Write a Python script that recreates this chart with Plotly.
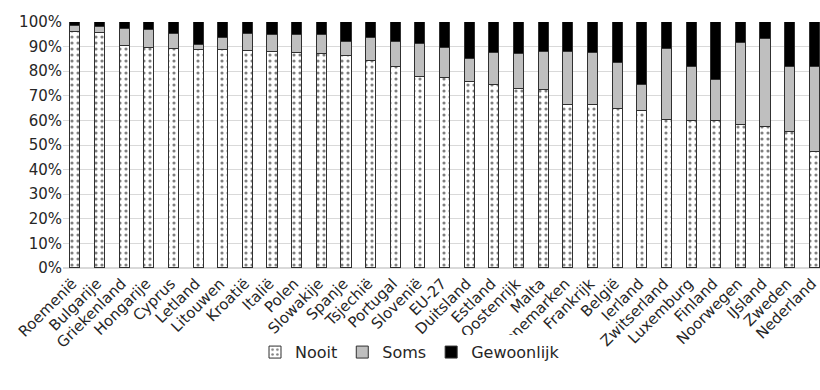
import plotly.graph_objects as go

countries = ["Roemenië", "Bulgarije", "Griekenland", "Hongarije", "Cyprus", "Letland",
             "Litouwen", "Kroatië", "Italië", "Polen", "Slowakije", "Spanje", "Tsjechië",
             "Portugal", "Slovenië", "EU-27", "Duitsland", "Estland", "Oostenrijk", "Malta",
             "Denemarken", "Frankrijk", "België", "Ierland", "Zwitserland", "Luxemburg",
             "Finland", "Noorwegen", "IJsland", "Zweden", "Nederland"]

nooit = [95.8, 95.7, 90.1, 89.5, 89.1, 88.5, 88.6, 88.1, 87.8, 87.4, 87.0, 86.1, 84.2,
         81.8, 77.8, 77.4, 75.8, 74.3, 72.6, 72.2, 66.1, 66.1, 64.5, 63.8, 60.3, 59.9,
         59.9, 58.2, 57.4, 55.1, 47.0]
soms = [2.6, 2.4, 7.1, 7.4, 6.0, 2.3, 5.0, 7.0, 6.8, 7.5, 7.7, 5.9, 9.2,
        10.2, 13.4, 12.2, 9.3, 13.1, 14.2, 15.6, 21.7, 21.2, 18.9, 10.5, 28.6, 22.0,
        16.7, 33.3, 35.7, 26.5, 34.9]
gewoonlijk = [1.6, 1.9, 2.8, 3.1, 4.9, 9.2, 6.4, 4.9, 5.4, 5.1, 5.3, 8.0, 6.6,
              8.0, 8.8, 10.4, 14.9, 12.6, 13.2, 12.2, 12.2, 12.7, 16.6, 25.7, 11.1, 18.1,
              23.4, 8.5, 6.9, 18.4, 18.1]

y_ticks = list(range(0, 101, 10))
y_labels = [f"{v}%" for v in y_ticks]

FONT = "DejaVu Sans"
line = dict(color="#303030", width=1)
bw = 0.41

fig = go.Figure()
fig.add_trace(go.Bar(
    name="Nooit", x=countries, y=nooit, width=bw,
    marker=dict(color="white", line=line,
                pattern=dict(shape=".", fgcolor="black", bgcolor="white", size=6, solidity=0.22)),
))
fig.add_trace(go.Bar(
    name="Soms", x=countries, y=soms, width=bw,
    marker=dict(color="#bfbfbf", line=line),
))
fig.add_trace(go.Bar(
    name="Gewoonlijk", x=countries, y=gewoonlijk, width=bw,
    marker=dict(color="black", line=line),
))

fig.update_layout(
    width=820, height=390,
    barmode="stack",
    plot_bgcolor="white", paper_bgcolor="white",
    margin=dict(l=63, r=0, t=22, b=121.5, autoexpand=False),
    font=dict(family=FONT, size=15, color="#262626"),
    showlegend=True,
    legend=dict(orientation="h", x=0.5, xref="container", xanchor="center",
                y=0.097, yref="container", yanchor="middle",
                font=dict(size=16), itemwidth=30, traceorder="normal"),
    xaxis=dict(range=[-0.5, 30.21], tickangle=-45, showgrid=False, showline=False,
               ticks="", tickfont=dict(size=15), automargin=False,
               ticklabelshift=-3, ticklabelstandoff=3),
    yaxis=dict(range=[0, 100], tickmode="array", tickvals=y_ticks, ticktext=y_labels,
               showgrid=True, gridcolor="#d9d9d9", gridwidth=1, zeroline=True,
               zerolinecolor="#d9d9d9", zerolinewidth=1.5, showline=False, ticks="",
               tickfont=dict(size=15), automargin=False),
    bargap=0,
)

fig.write_html(
    "out.html",
    config={"displayModeBar": False},
    post_script="document.body.style.margin='0';document.body.style.overflow='hidden';",
)
